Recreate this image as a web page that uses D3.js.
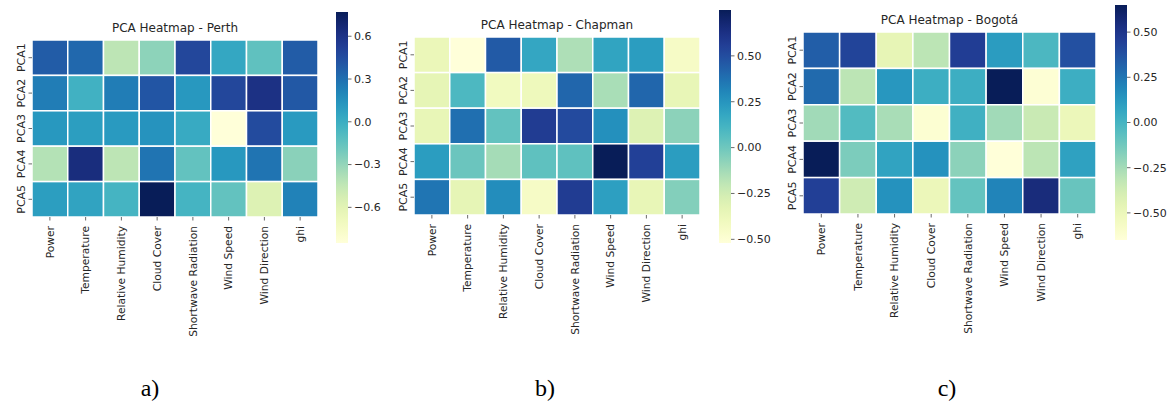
<!DOCTYPE html>
<meta charset="utf-8">
<head>
  <title>PCA Heatmaps</title>
</head>
<script src="https://d3js.org/d3.v7.min.js"></script>
<style>
  body { margin: 0; background: #fff; }
  text { font-family: "DejaVu Sans", sans-serif; fill: #262626; }
</style>
<div id="chart"></div>
<script>

// variables and components (shared by all three heatmaps)
var features = ["Power", "Temperature", "Relative Humidity", "Cloud Cover",
                "Shortwave Radiation", "Wind Speed", "Wind Direction", "ghi"];
var components = ["PCA1", "PCA2", "PCA3", "PCA4", "PCA5"];

// loadings, one row per component
var perth = [
  [ 0.38,  0.33, -0.43, -0.28,  0.48,  0.04, -0.14,  0.38],
  [ 0.24, -0.02,  0.24,  0.41,  0.12,  0.48,  0.61,  0.40],
  [ 0.12,  0.09,  0.11,  0.14,  0.02, -0.85,  0.46,  0.11],
  [-0.40,  0.64, -0.43,  0.28, -0.15,  0.12,  0.28, -0.27],
  [ 0.09,  0.06, -0.04,  0.77, -0.04, -0.15, -0.57,  0.22]
];
var chapman = [
  [-0.37, -0.52,  0.45,  0.18, -0.15,  0.19,  0.22, -0.44],
  [-0.34,  0.09, -0.41, -0.39,  0.41, -0.14,  0.41, -0.35],
  [-0.35,  0.38,  0.03,  0.57,  0.51,  0.27, -0.30, -0.07],
  [ 0.22,  0.01, -0.13,  0.04,  0.04,  0.75,  0.55,  0.22],
  [ 0.36, -0.34,  0.28, -0.44,  0.57,  0.21, -0.35, -0.05]
];
var bogota = [
  [ 0.33,  0.43, -0.47, -0.31,  0.46,  0.11, -0.02,  0.38],
  [ 0.29, -0.31,  0.13,  0.03,  0.03,  0.65, -0.63,  0.03],
  [-0.24, -0.04, -0.26, -0.62,  0.02, -0.24, -0.35, -0.50],
  [ 0.65, -0.15,  0.08,  0.15, -0.19, -0.65, -0.31,  0.09],
  [ 0.45, -0.37,  0.15, -0.50, -0.09,  0.20,  0.55, -0.10]
];

var titles = ["PCA Heatmap - Perth", "PCA Heatmap - Chapman", "PCA Heatmap - Bogotá"];
var panelLabels = ["a)", "b)", "c)"];
var cbarTicks = [[-0.6, -0.3, 0, 0.3, 0.6], [-0.5, -0.25, 0, 0.25, 0.5], [-0.5, -0.25, 0, 0.25, 0.5]];
var cbarFormats = [".1f", ".2f", ".2f"];
var datasets = [perth, chapman, bogota];

// layout of each panel (heatmap box, colorbar box, caption)
var layout = [
  {x0: 32,  x1: 318,  y0: 40, y1: 217, cx: 336,  cy0: 12, cy1: 243, lx: 150},
  {x0: 414, x1: 700,  y0: 37, y1: 215, cx: 719,  cy0: 10, cy1: 243, lx: 545},
  {x0: 803, x1: 1096, y0: 32, y1: 214, cx: 1115, cy0: 5,  cy1: 240, lx: 947}
];

var width = 1174, height = 405;

var svg = d3.select("#chart")
  .append("svg")
    .attr("width", width)
    .attr("height", height);

datasets.forEach(function(data, p) {
  var L = layout[p];
  var g = svg.append("g");

  var cells = [];
  data.forEach(function(row, i) {
    row.forEach(function(v, j) {
      cells.push({comp: components[i], feat: features[j], value: v});
    });
  });

  var ext = d3.extent(cells, function(d) { return d.value; });
  var color = d3.scaleSequential(d3.interpolateYlGnBu).domain(ext);

  var x = d3.scaleBand().domain(features).range([L.x0, L.x1]);
  var y = d3.scaleBand().domain(components).range([L.y0, L.y1]);

  // cells
  g.selectAll("rect.cell")
    .data(cells)
    .enter().append("rect")
      .attr("class", "cell")
      .attr("x", function(d) { return x(d.feat); })
      .attr("y", function(d) { return y(d.comp); })
      .attr("width", x.bandwidth())
      .attr("height", y.bandwidth())
      .attr("fill", function(d) { return color(d.value); })
      .attr("stroke", "#fff")
      .attr("stroke-width", 1.5);

  // y ticks
  components.forEach(function(c) {
    var cy = y(c) + y.bandwidth() / 2;
    g.append("line")
      .attr("x1", L.x0 - 3.5).attr("x2", L.x0)
      .attr("y1", cy).attr("y2", cy)
      .attr("stroke", "#444").attr("stroke-width", 0.8);
    g.append("text")
      .attr("transform", "translate(" + (L.x0 - 7) + "," + cy + ") rotate(-90)")
      .attr("text-anchor", "middle")
      .style("font-size", "11px")
      .text(c);
  });

  // x ticks
  features.forEach(function(f) {
    var cx = x(f) + x.bandwidth() / 2;
    g.append("line")
      .attr("x1", cx).attr("x2", cx)
      .attr("y1", L.y1).attr("y2", L.y1 + 3.5)
      .attr("stroke", "#444").attr("stroke-width", 0.8);
    g.append("text")
      .attr("transform", "translate(" + cx + "," + (L.y1 + 9) + ") rotate(-90)")
      .attr("text-anchor", "end")
      .attr("dy", "0.35em")
      .style("font-size", "10.7px")
      .text(f);
  });

  // title
  g.append("text")
    .attr("x", (L.x0 + L.x1) / 2)
    .attr("y", L.y0 - 8)
    .attr("text-anchor", "middle")
    .style("font-size", "12px")
    .text(titles[p]);

  // colorbar
  var gradId = "grad" + p;
  var grad = svg.append("defs").append("linearGradient")
    .attr("id", gradId)
    .attr("x1", 0).attr("y1", 1).attr("x2", 0).attr("y2", 0);
  d3.range(0, 1.0001, 0.05).forEach(function(t) {
    grad.append("stop")
      .attr("offset", t)
      .attr("stop-color", color(ext[0] + t * (ext[1] - ext[0])));
  });
  g.append("rect")
    .attr("x", L.cx).attr("y", L.cy0)
    .attr("width", 12).attr("height", L.cy1 - L.cy0)
    .attr("fill", "url(#" + gradId + ")");

  var cScale = d3.scaleLinear().domain(ext).range([L.cy1, L.cy0]);
  var fmt = d3.format(cbarFormats[p]);
  cbarTicks[p].forEach(function(t) {
    var ty = cScale(t);
    g.append("line")
      .attr("x1", L.cx + 12).attr("x2", L.cx + 15.5)
      .attr("y1", ty).attr("y2", ty)
      .attr("stroke", "#444").attr("stroke-width", 0.8);
    g.append("text")
      .attr("x", L.cx + 18)
      .attr("y", ty)
      .attr("dy", "0.35em")
      .style("font-size", "11px")
      .text(fmt(t));
  });

  // panel caption
  g.append("text")
    .attr("x", L.lx)
    .attr("y", 396)
    .attr("text-anchor", "middle")
    .style("font-family", "'Liberation Serif', serif")
    .style("font-size", "24px")
    .style("fill", "#000")
    .text(panelLabels[p]);
});

</script>
